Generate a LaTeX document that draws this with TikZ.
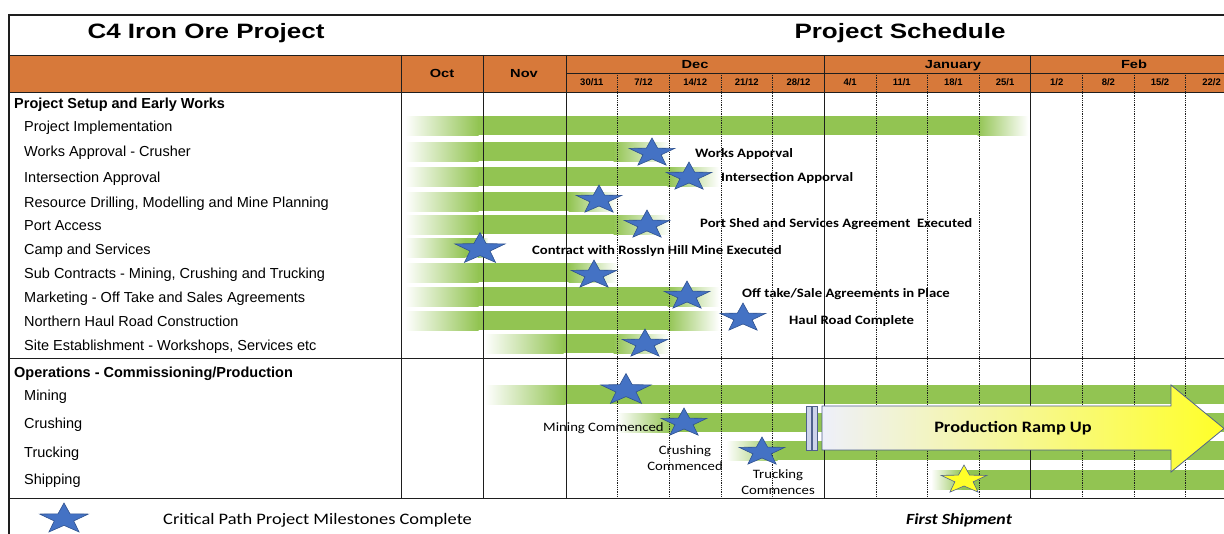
\documentclass[tikz,border=0pt]{standalone}
\usepackage{fontspec}
\setmainfont{Liberation Sans}
\newfontfamily\widefont{Liberation Sans}[FakeStretch=1.25]
\newfontfamily\calfont{Carlito}[FakeStretch=1.15]
\usepackage{xcolor}
\usetikzlibrary{shapes.geometric, positioning}

\definecolor{hdrorange}{RGB}{215,121,58}
\definecolor{bargreen}{RGB}{146,196,82}
\definecolor{starblue}{RGB}{68,114,196}
\definecolor{starline}{RGB}{47,82,143}
\definecolor{arrowline}{RGB}{80,98,140}
\definecolor{arrowpale}{RGB}{238,240,250}
\definecolor{tailfill}{RGB}{205,212,235}
\definecolor{rampyellow}{RGB}{255,255,40}
\definecolor{gridcol}{RGB}{30,30,30}

\begin{document}
\begin{tikzpicture}[x=1pt, y=-1pt,
    task/.style = {anchor=west, inner sep=0pt, text height=10pt, text depth=0pt,
        font=\fontsize{14.5}{17}\selectfont},
    section/.style = {task, font=\bfseries\fontsize{14.5}{17}\selectfont},
    month/.style = {inner sep=0pt, text height=8.5pt, text depth=0pt,
        font=\widefont\bfseries\fontsize{11.7}{14}\selectfont},
    week/.style = {inner sep=0pt, text height=7pt, text depth=0pt,
        font=\bfseries\fontsize{9.5}{11}\selectfont},
    note/.style = {anchor=west, inner sep=0pt, text height=8.2pt, text depth=0pt,
        font=\calfont\bfseries\fontsize{12.8}{15}\selectfont},
    plain note/.style = {inner sep=0pt, align=center,
        font=\calfont\fontsize{12.8}{16}\selectfont},
    heading/.style = {inner sep=0pt, text height=15pt, text depth=0pt,
        font=\widefont\bfseries\fontsize{20.8}{24}\selectfont},
    milestone/.style = {star, star points=5, star point ratio=2.5, minimum size=30pt,
        inner sep=0pt, xscale=1.6, transform shape, fill=starblue, draw=starline,
        line width=0.6pt},
    gridline/.style = {gridcol, line width=0.9pt},
    weekline/.style = {gridcol, line width=0.8pt, densely dotted},
    ]
  \useasboundingbox (0,0) rectangle (1224,534);
  \clip (0,0) rectangle (1224,534);

  % header band
  \fill[hdrorange] (9,55) rectangle (1224,92);

  % task bars: y / fade in / solid from / solid to / fade out
  \foreach \y/\a/\b/\c/\d in {126/405/478/978/1028, 152/405/478/614/669,
      177/405/478/668/719, 202/405/478/569/617, 225/405/478/614/669,
      248/405/465/478/488, 273/405/478/569/617, 297/405/478/668/719,
      321/405/478/668/719, 344/484/563/614/669,
      395/485/565/1230/1240, 423/617/670/1230/1240,
      451/726/777/1230/1240, 480/931/962/1230/1240} {
    \fill[left color=white, right color=bargreen] (\a,\y-9.5) rectangle (\b+0.5,\y+9.5);
    \fill[bargreen] (\b,\y-9.5) rectangle (\c,\y+9.5);
    \fill[left color=bargreen, right color=white] (\c-0.5,\y-9.5) rectangle (\d,\y+9.5);
  }

  % grid
  \foreach \x in {401,483,566,824.25,1030.85}
    \draw[gridline] (\x,55) -- (\x,498);
  \foreach \x in {617.65,669.3,720.95,772.6,875.9,927.55,979.2,1082.5,1134.15,1185.8}
    \draw[weekline] (\x,73) -- (\x,498);
  \draw[gridcol, line width=2pt] (8,15) -- (1224,15);
  \draw[gridcol, line width=2pt] (9,14) -- (9,534);
  \draw[gridline] (9,55) -- (1224,55);
  \draw[gridline] (566,73) -- (1224,73);
  \draw[gridline] (9,92) -- (1224,92);
  \draw[gridline] (9,358) -- (1224,358);
  \draw[gridline] (9,498) -- (1224,498);

  % production ramp up arrow
  \draw[arrowline, line width=0.8pt, fill=tailfill] (806,406) rectangle (811,450);
  \draw[arrowline, line width=0.8pt, fill=tailfill] (812,406) rectangle (817,450);
  \draw[arrowline, line width=0.8pt, left color=arrowpale,
      middle color=rampyellow!35!arrowpale, right color=rampyellow]
    (822,406) -- (1171,406) -- (1171,385) -- (1224,428.5) -- (1171,472)
    -- (1171,450) -- (822,450) -- cycle;
  \node (ramp) at (1013,428) [font=\calfont\bfseries\fontsize{15.9}{18}\selectfont]
    {Production Ramp Up};

  % titles
  \node[heading] (title) at (206,31) {C4 Iron Ore Project};
  \node[heading] (sched) at (900,31) {Project Schedule};

  % months and weeks
  \node[month] (oct) at (442,73.5) {Oct};
  \node[month] (nov) at (524,73.5) {Nov};
  \node[month] (dec) at (695,64.5) {Dec};
  \node[month] (jan) at (953,64.5) {January};
  \node[month] (feb) at (1134,64.5) {Feb};
  \foreach \w [count=\i] in {30/11,7/12,14/12,21/12,28/12,4/1,11/1,18/1,25/1,1/2,8/2,15/2,22/2}
    \node[week] (wk\i) at (540.2+51.65*\i,82) {\w};

  % task names
  \node[section] (setup) at (14,104) {Project Setup and Early Works};
  \node[task] (t1) at (24,127) {Project Implementation};
  \node[task] (t2) at (24,152) {Works Approval - Crusher};
  \node[task] (t3) at (24,178) {Intersection Approval};
  \node[task] (t4) at (24,203) {Resource Drilling, Modelling and Mine Planning};
  \node[task] (t5) at (24,226) {Port Access};
  \node[task] (t6) at (24,250) {Camp and Services};
  \node[task] (t7) at (24,274) {Sub Contracts - Mining, Crushing and Trucking};
  \node[task] (t8) at (24,298) {Marketing - Off Take and Sales Agreements};
  \node[task] (t9) at (24,322) {Northern Haul Road Construction};
  \node[task] (t10) at (24,346) {Site Establishment - Workshops, Services etc};
  \node[section] (ops) at (14,373) {Operations - Commissioning/Production};
  \node[task] (o1) at (24,396) {Mining};
  \node[task] (o2) at (24,424) {Crushing};
  \node[task] (o3) at (24,452) {Trucking};
  \node[task] (o4) at (24,480) {Shipping};

  % milestones
  \node[milestone] (m2) at (652,153) {};
  \node[milestone] (m3) at (689,177) {};
  \node[milestone] (m4) at (599,200) {};
  \node[milestone] (m5) at (647,225) {};
  \node[milestone, minimum size=33pt] (m6) at (480,249) {};
  \node[milestone] (m7) at (594,275) {};
  \node[milestone] (m8) at (687,296) {};
  \node[milestone] (m9) at (743,318) {};
  \node[milestone] (m10) at (645,344) {};
  \node[milestone, minimum size=33pt] (mine) at (626,390) {};
  \node[milestone] (crush) at (684,423) {};
  \node[milestone] (truck) at (762,452) {};
  \node[milestone, fill=rampyellow, draw=arrowline] (ship) at (964,480) {};
  \node[milestone, minimum size=32pt] (key) at (64,519) {};

  % milestone notes
  \node[note] (n2) at (695,153) {Works Apporval};
  \node[note] (n3) at (721,177) {Intersection Apporval};
  \node[note] (n5) at (700,223) {Port Shed and Services Agreement~ Executed};
  \node[note] (n6) at (532,250) {Contract with Rosslyn Hill Mine Executed};
  \node[note] (n8) at (742,293) {Off take/Sale Agreements in Place};
  \node[note] (n9) at (789,320) {Haul Road Complete};
  \node[plain note, anchor=west] (nmine) at (543,428.5) {Mining Commenced};
  \node[plain note] (ncrush) at (685,458.5) {Crushing\\Commenced};
  \node[plain note] (ntruck) at (778,482) {Trucking\\Commences};

  % legend
  \node[plain note, anchor=west, font=\calfont\fontsize{16}{18}\selectfont] (keytext) at (163,520)
    {Critical Path Project Milestones Complete};
  \node (first) at (959,520) [font=\calfont\bfseries\itshape\fontsize{15.5}{18}\selectfont]
    {First Shipment};
\end{tikzpicture}
\end{document}
